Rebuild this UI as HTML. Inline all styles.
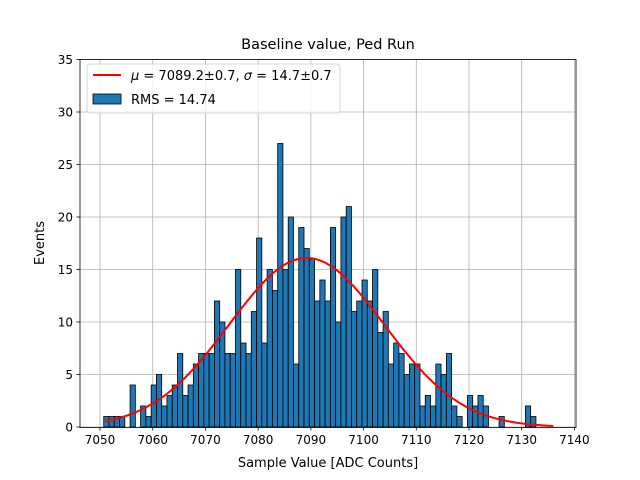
<!DOCTYPE html>
<html><head><meta charset="utf-8"><style>
body{margin:0;background:#fff;}
svg{display:block;font-family:"DejaVu Sans","Liberation Sans",sans-serif;}
</style></head><body>
<svg id="chart" width="640" height="480" viewBox="0 0 640 480" xmlns="http://www.w3.org/2000/svg">
<rect width="640" height="480" fill="#fff"/>
<g id="grid"></g>
<g id="bars"></g>
<g id="curve"></g>
<rect x="80" y="59.5" width="496" height="368" fill="none" stroke="#000" stroke-width="0.8"/>
<g id="ticks"></g>
<text x="328" y="49" text-anchor="middle" font-size="14.5">Baseline value, Ped Run</text>
<text x="328" y="467" text-anchor="middle" font-size="13">Sample Value [ADC Counts]</text>
<text transform="translate(44,243) rotate(-90)" text-anchor="middle" font-size="13">Events</text>
<g>
<rect x="87" y="64" width="253" height="49" rx="3" fill="#fff" fill-opacity="0.8" stroke="#ccc" stroke-width="0.8"/>
<line x1="93" y1="75" x2="121" y2="75" stroke="red" stroke-width="2"/>
<text x="131" y="80" font-size="13"><tspan font-style="italic">μ</tspan> = 7089.2±0.7, <tspan font-style="italic">σ</tspan> = 14.7±0.7</text>
<rect x="93" y="94" width="28" height="10" fill="#1f77b4" stroke="#000" stroke-width="0.8"/>
<text x="131" y="104" font-size="13">RMS = 14.74</text>
</g>
</svg>
<script>
const binStart = 7050.7;
const binWidth = 1.0;
const counts = [1,1,1,1,0,4,0,2,1,4,5,2,3,4,7,3,4,6,7,7,7,12,10,7,7,15,8,7,11,
18,8,15,13,27,15,20,6,19,17,16,12,14,12,19,10,20,21,11,12,14,12,15,9,11,6,8,7,
5,6,6,2,3,2,6,5,7,2,1,0,3,2,3,2,0,0,1,0,0,0,0,2,1];
const fitMu = 7089.2;
const fitSigma = 14.7;
const fitPeak = 16.1;
const fitRange = [7051, 7136];
const xTicks = [7050,7060,7070,7080,7090,7100,7110,7120,7130,7140];
const yTicks = [0,5,10,15,20,25,30,35];

const NS="http://www.w3.org/2000/svg";
const X0=80,X1=576,Y0=427,Y1=59.5;
const xmin=7046.2, xmax=7140.3, ymin=0, ymax=35;
const sx=v=>X0+(v-xmin)/(xmax-xmin)*(X1-X0);
const sy=v=>Y0-(v-ymin)/(ymax-ymin)*(Y0-Y1);
function mk(tag,attrs,parent){const e=document.createElementNS(NS,tag);for(const k in attrs)e.setAttribute(k,attrs[k]);parent.appendChild(e);return e;}
const grid=document.getElementById('grid'),ticks=document.getElementById('ticks');
xTicks.forEach(t=>{
  const x=sx(t);
  const g=mk('line',{x1:x,x2:x,y1:Y1,y2:Y0,stroke:'#b0b0b0','stroke-width':0.8},grid);
  
  
  mk('line',{x1:x,x2:x,y1:Y0,y2:Y0+3.5,stroke:'#000','stroke-width':0.8},ticks);
  const tx=mk('text',{x:x,y:Y0+17,'text-anchor':'middle','font-size':12},ticks);
  tx.textContent=t;
  
  
});
yTicks.forEach(t=>{
  const y=sy(t);
  const g=mk('line',{x1:X0,x2:X1,y1:y,y2:y,stroke:'#b0b0b0','stroke-width':0.8},grid);
  
  
  mk('line',{x1:X0-3.5,x2:X0,y1:y,y2:y,stroke:'#000','stroke-width':0.8},ticks);
  const tx=mk('text',{x:X0-7,y:y+4.5,'text-anchor':'end','font-size':12},ticks);
  tx.textContent=t;
  
  
});
const bars=document.getElementById('bars');
counts.forEach((c,i)=>{
  if(c<=0)return;
  const a=sx(binStart+i*binWidth),b=sx(binStart+(i+1)*binWidth);
  const r=mk('rect',{x:a,y:sy(c),width:b-a,height:sy(0)-sy(c),fill:'#1f77b4',stroke:'#000','stroke-width':0.8},bars);
  
  
});
let d='';
for(let k=0;k<=200;k++){
  const v=fitRange[0]+(fitRange[1]-fitRange[0])*k/200;
  const y=fitPeak*Math.exp(-0.5*Math.pow((v-fitMu)/fitSigma,2));
  d+=(k?'L':'M')+sx(v).toFixed(2)+','+sy(y).toFixed(2);
}
const p=mk('path',{d:d,fill:'none',stroke:'red','stroke-width':2},document.getElementById('curve'));


</script>
</body></html>
